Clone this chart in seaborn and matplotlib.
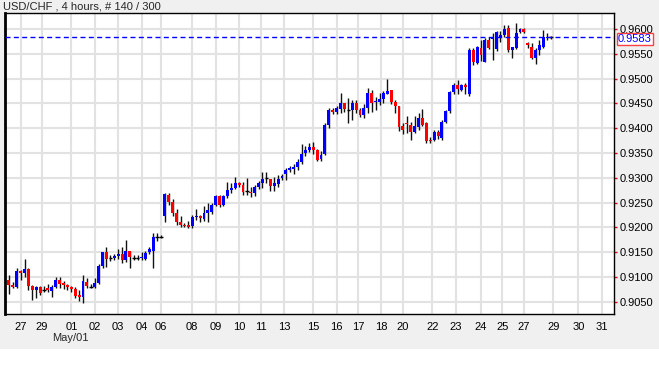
import numpy as np
import pandas as pd
import matplotlib
matplotlib.use("Agg")
import matplotlib.pyplot as plt
import seaborn as sns
from matplotlib.patches import Rectangle

# 4-hour USD/CHF candles (open, high, low, close)
opens = [0.9094, 0.9084, 0.9080, 0.9112, 0.9108, 0.9116, 0.9082, 0.9074, 0.9080, 0.9074,
         0.9078, 0.9072, 0.9080, 0.9094, 0.9088, 0.9084, 0.9080, 0.9076, 0.9064, 0.9060,
         0.9090, 0.9080, 0.9080, 0.9088, 0.9122, 0.9150, 0.9138, 0.9138, 0.9142, 0.9146,
         0.9134, 0.9152, 0.9140, 0.9138, 0.9138, 0.9136, 0.9150, 0.9152, 0.9180, 0.9181,
         0.9224, 0.9266, 0.9252, 0.9230, 0.9212, 0.9206, 0.9206, 0.9204, 0.9222, 0.9224,
         0.9218, 0.9230, 0.9232, 0.9246, 0.9264, 0.9246, 0.9264, 0.9276, 0.9280, 0.9290,
         0.9286, 0.9272, 0.9272, 0.9270, 0.9282, 0.9290, 0.9298, 0.9298, 0.9284, 0.9288,
         0.9300, 0.9308, 0.9316, 0.9318, 0.9322, 0.9332, 0.9350, 0.9356, 0.9362, 0.9356,
         0.9338, 0.9348, 0.9406, 0.9436, 0.9432, 0.9438, 0.9450, 0.9438, 0.9436, 0.9450,
         0.9436, 0.9426, 0.9440, 0.9472, 0.9452, 0.9452, 0.9458, 0.9468, 0.9478, 0.9452,
         0.9444, 0.9404, 0.9410, 0.9406, 0.9392, 0.9402, 0.9420, 0.9410, 0.9376, 0.9376,
         0.9392, 0.9380, 0.9412, 0.9434, 0.9474, 0.9488, 0.9478, 0.9488, 0.9468, 0.9558,
         0.9532, 0.9562, 0.9534, 0.9578, 0.9580, 0.9560, 0.9582, 0.9588, 0.9602, 0.9558,
         0.9562, 0.9594, 0.9600, 0.9572, 0.9564, 0.9542, 0.9558, 0.9564, 0.9582, 0.9584]
highs = [0.9104, 0.9090, 0.9118, 0.9114, 0.9136, 0.9118, 0.9084, 0.9082, 0.9082, 0.9082,
         0.9086, 0.9084, 0.9100, 0.9100, 0.9092, 0.9086, 0.9082, 0.9080, 0.9074, 0.9104,
         0.9098, 0.9086, 0.9098, 0.9126, 0.9150, 0.9160, 0.9144, 0.9146, 0.9156, 0.9160,
         0.9174, 0.9152, 0.9144, 0.9144, 0.9150, 0.9152, 0.9160, 0.9188, 0.9188, 0.9184,
         0.9270, 0.9270, 0.9258, 0.9238, 0.9224, 0.9210, 0.9214, 0.9226, 0.9238, 0.9226,
         0.9244, 0.9250, 0.9250, 0.9266, 0.9266, 0.9266, 0.9292, 0.9290, 0.9302, 0.9292,
         0.9292, 0.9300, 0.9282, 0.9286, 0.9294, 0.9312, 0.9312, 0.9298, 0.9302, 0.9306,
         0.9308, 0.9320, 0.9324, 0.9328, 0.9338, 0.9368, 0.9364, 0.9370, 0.9372, 0.9358,
         0.9354, 0.9410, 0.9440, 0.9440, 0.9444, 0.9472, 0.9450, 0.9460, 0.9456, 0.9456,
         0.9440, 0.9448, 0.9482, 0.9478, 0.9462, 0.9472, 0.9476, 0.9500, 0.9478, 0.9456,
         0.9444, 0.9410, 0.9424, 0.9412, 0.9424, 0.9430, 0.9438, 0.9412, 0.9382, 0.9396,
         0.9396, 0.9416, 0.9436, 0.9476, 0.9492, 0.9498, 0.9490, 0.9492, 0.9562, 0.9562,
         0.9566, 0.9578, 0.9582, 0.9584, 0.9592, 0.9596, 0.9596, 0.9608, 0.9608, 0.9564,
         0.9612, 0.9602, 0.9602, 0.9574, 0.9572, 0.9562, 0.9578, 0.9598, 0.9592, 0.9586]
lows = [0.9066, 0.9078, 0.9078, 0.9094, 0.9100, 0.9074, 0.9054, 0.9058, 0.9064, 0.9070,
        0.9070, 0.9060, 0.9078, 0.9078, 0.9076, 0.9074, 0.9070, 0.9058, 0.9052, 0.9048,
        0.9078, 0.9078, 0.9078, 0.9086, 0.9118, 0.9120, 0.9132, 0.9134, 0.9136, 0.9128,
        0.9130, 0.9118, 0.9134, 0.9134, 0.9134, 0.9134, 0.9146, 0.9118, 0.9172, 0.9178,
        0.9212, 0.9246, 0.9224, 0.9206, 0.9200, 0.9200, 0.9198, 0.9198, 0.9216, 0.9212,
        0.9214, 0.9212, 0.9228, 0.9244, 0.9242, 0.9244, 0.9260, 0.9270, 0.9278, 0.9282,
        0.9266, 0.9266, 0.9262, 0.9264, 0.9278, 0.9280, 0.9290, 0.9274, 0.9274, 0.9282,
        0.9296, 0.9296, 0.9312, 0.9308, 0.9316, 0.9328, 0.9344, 0.9352, 0.9348, 0.9334,
        0.9334, 0.9346, 0.9400, 0.9428, 0.9428, 0.9430, 0.9432, 0.9410, 0.9416, 0.9430,
        0.9422, 0.9420, 0.9430, 0.9432, 0.9436, 0.9446, 0.9450, 0.9468, 0.9448, 0.9430,
        0.9394, 0.9388, 0.9390, 0.9376, 0.9390, 0.9396, 0.9404, 0.9370, 0.9370, 0.9374,
        0.9378, 0.9376, 0.9410, 0.9430, 0.9468, 0.9468, 0.9476, 0.9468, 0.9464, 0.9528,
        0.9530, 0.9536, 0.9534, 0.9560, 0.9538, 0.9556, 0.9574, 0.9584, 0.9554, 0.9542,
        0.9560, 0.9592, 0.9592, 0.9562, 0.9540, 0.9530, 0.9548, 0.9562, 0.9578, 0.9580]
closes = [0.9084, 0.9080, 0.9112, 0.9108, 0.9116, 0.9082, 0.9074, 0.9080, 0.9068, 0.9075,
          0.9074, 0.9080, 0.9094, 0.9086, 0.9084, 0.9080, 0.9076, 0.9062, 0.9060, 0.9092,
          0.9082, 0.9081, 0.9088, 0.9122, 0.9150, 0.9136, 0.9139, 0.9142, 0.9146, 0.9134,
          0.9152, 0.9140, 0.9139, 0.9138, 0.9140, 0.9148, 0.9156, 0.9180, 0.9181, 0.9180,
          0.9268, 0.9252, 0.9230, 0.9212, 0.9206, 0.9204, 0.9202, 0.9222, 0.9224, 0.9220,
          0.9230, 0.9236, 0.9246, 0.9264, 0.9246, 0.9264, 0.9276, 0.9280, 0.9290, 0.9286,
          0.9272, 0.9273, 0.9270, 0.9282, 0.9290, 0.9298, 0.9299, 0.9284, 0.9290, 0.9298,
          0.9304, 0.9316, 0.9320, 0.9322, 0.9332, 0.9348, 0.9356, 0.9362, 0.9356, 0.9336,
          0.9346, 0.9406, 0.9436, 0.9432, 0.9440, 0.9450, 0.9438, 0.9437, 0.9450, 0.9436,
          0.9426, 0.9440, 0.9472, 0.9450, 0.9454, 0.9458, 0.9472, 0.9476, 0.9452, 0.9444,
          0.9402, 0.9396, 0.9408, 0.9392, 0.9404, 0.9420, 0.9406, 0.9374, 0.9374, 0.9392,
          0.9384, 0.9412, 0.9434, 0.9474, 0.9488, 0.9480, 0.9488, 0.9484, 0.9558, 0.9534,
          0.9564, 0.9548, 0.9578, 0.9562, 0.9582, 0.9594, 0.9588, 0.9600, 0.9558, 0.9564,
          0.9592, 0.9600, 0.9594, 0.9568, 0.9542, 0.9558, 0.9568, 0.9584, 0.9584, 0.9583]

# day labels on the time axis, placed at candle index
day_labels = ['27', '29', '01', '02', '03', '04', '06', '08', '09', '10', '11', '13',
              '15', '16', '17', '18', '20', '22', '23', '24', '25', '27', '29', '30', '31']
day_pos = [3, 8.5, 16, 22, 28, 34, 39, 47, 53, 59, 64.5, 70.5,
           78, 84, 89.5, 95.5, 101, 108.5, 114.5, 121, 126.5, 132, 139.5, 146, 152]
price_ticks = np.arange(0.9050, 0.96001, 0.005)
last_price = 0.9583

df = pd.DataFrame({'open': opens, 'high': highs, 'low': lows, 'close': closes})
df['idx'] = np.arange(len(df))

sns.set_style('white')
plt.rcParams['font.family'] = ['Liberation Sans', 'DejaVu Sans']

W, H = 659, 367
fig = plt.figure(figsize=(W / 100, H / 100), dpi=100, facecolor='#f0f0f0')
fig.patches.append(Rectangle((0, 0), 1, 18 / H, transform=fig.transFigure,
                             facecolor='white', edgecolor='none', zorder=0))
ax = fig.add_axes([5 / W, 53 / H, 609 / W, 301 / H])
ax.set_facecolor('white')

# grid
for p in day_pos:
    ax.axvline(p, color='#e2e2e2', lw=1.5, zorder=0)
for p in price_ticks:
    ax.axhline(p, color='#e2e2e2', lw=1.5, zorder=0)

# wicks
ax.vlines(df['idx'], df['low'], df['high'], color='#111111', lw=1, zorder=2)

# bodies
diff = df['close'] - df['open']
up = df[diff > 0.00015]
down = df[diff < -0.00015]
flat = df[diff.abs() <= 0.00015]
ax.bar(up['idx'], up['close'] - up['open'], bottom=up['open'], width=0.75,
       color='#0000ff', edgecolor='none', zorder=3)
ax.bar(down['idx'], down['open'] - down['close'], bottom=down['close'], width=0.75,
       color='#ff0000', edgecolor='none', zorder=3)
ax.hlines(flat['close'], flat['idx'] - 0.45, flat['idx'] + 0.45, color='black', lw=1, zorder=3)

# last price line
ax.axhline(last_price, color='#0000ff', lw=1, ls=(0, (3.6, 2.4)), zorder=4)

ax.set_xlim(-1.0, 155.1)
ax.set_ylim(0.90257, 0.96322)

ax.set_xticks(day_pos)
ax.set_xticklabels(day_labels)
ax.yaxis.tick_right()
ax.set_yticks(price_ticks)
ax.set_yticklabels([f'{p:.4f}' for p in price_ticks])
ax.tick_params(axis='x', colors='#ff0000', labelcolor='black', length=2.5, width=1,
               direction='out', pad=3, labelsize=8)
ax.tick_params(axis='y', colors='#ff0000', labelcolor='black', length=2.5, width=1,
               direction='out', pad=1.5, labelsize=8)

for s in ax.spines.values():
    s.set_visible(True)
    s.set_color('black')
    s.set_linewidth(1)
ax.spines['left'].set_linewidth(2)

fig.text(3 / W, 1 - 6.5 / H, 'USD/CHF , 4 hours, # 140 / 300', fontsize=8,
         ha='left', va='center')
fig.text(70 / W, 1 - 338 / H, 'May/01', fontsize=8, ha='center', va='center')
fig.text(635 / W, 1 - 39 / H, f'{last_price:.4f}', fontsize=8, color='#0000ff',
         ha='center', va='center', zorder=5,
         bbox=dict(boxstyle='square,pad=0.08', facecolor='white', edgecolor='#ff4040', lw=1))

fig.savefig('out.png', dpi=100, facecolor=fig.get_facecolor())
